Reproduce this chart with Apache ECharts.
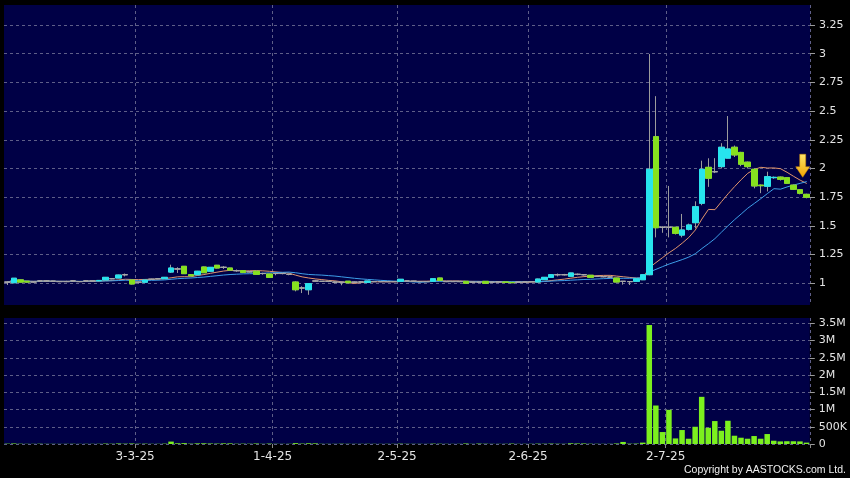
<!DOCTYPE html>
<html>
<head>
<meta charset="utf-8">
<script src="https://cdn.jsdelivr.net/npm/echarts@6/dist/echarts.min.js"></script>
<style>
html,body{margin:0;padding:0;background:#000;}
#chart{width:850px;height:478px;}
</style>
</head>
<body>
<div id="chart"></div>
<script>
// Trading days (HK), Feb–Jul 2025
const febDays = [3,4,5,6,7,10,11,12,13,14,17,18,19,20,21,24,25,26,27,28];
const marDays = [3,4,5,6,7,10,11,12,13,14,17,18,19,20,21,24,25,26,27,28,31];
const aprDays = [1,2,3,7,8,9,10,11,14,15,16,17,22,23,24,25,28,29,30];
const mayDays = [2,6,7,8,9,12,13,14,15,16,19,20,21,22,23,26,27,28,29,30];
const junDays = [2,3,4,5,6,9,10,11,12,13,16,17,18,19,20,23,24,25,26,27,30];
const julDays = [2,3,4,7,8,9,10,11,14,15,16,17,18,21,22,23,24,25,28,29,30,31];

const opens = [
1.010,1.005,1.030,1.018,1.012,1.020,1.020,1.018,1.015,1.015,
1.020,1.015,1.020,1.020,1.022,1.029,1.040,1.046,1.075,1.029,
1.010,1.009,1.035,1.040,1.040,1.098,1.125,1.148,1.075,1.075,
1.142,1.105,1.157,1.139,1.133,1.110,1.110,1.100,1.105,1.085,
1.081,1.085,1.085,1.078,1.011,0.959,0.944,1.020,1.017,1.017,
1.010,1.009,1.018,1.010,1.012,1.008,1.015,1.015,1.015,1.015,
1.017,1.020,1.018,1.015,1.015,1.017,1.046,1.015,1.015,1.015,
1.017,1.010,1.010,1.017,1.010,1.012,1.012,1.008,1.010,1.012,
1.015,1.011,1.031,1.052,1.075,1.075,1.061,1.078,1.075,1.070,
1.060,1.058,1.055,1.046,1.017,1.015,1.017,1.031,1.075,2.277,
1.488,1.488,1.488,1.420,1.470,1.528,1.697,2.010,1.972,2.016,
2.090,2.185,2.140,2.055,1.993,1.855,1.845,1.920,1.925,1.920,
1.855,1.815,1.775];
const closes = [
1.010,1.044,1.010,1.010,1.012,1.020,1.020,1.018,1.015,1.015,
1.020,1.015,1.020,1.020,1.025,1.052,1.040,1.072,1.075,0.994,
1.010,1.029,1.035,1.040,1.052,1.133,1.125,1.084,1.065,1.105,
1.092,1.139,1.133,1.139,1.115,1.110,1.095,1.100,1.078,1.085,
1.052,1.085,1.085,1.078,0.944,0.959,0.997,1.020,1.017,1.017,
1.010,1.009,1.005,1.010,1.012,1.020,1.015,1.015,1.015,1.015,
1.035,1.020,1.018,1.015,1.015,1.040,1.025,1.015,1.015,1.015,
1.000,1.010,1.010,1.000,1.010,1.012,1.008,1.005,1.010,1.012,
1.015,1.037,1.052,1.075,1.075,1.075,1.090,1.078,1.075,1.052,
1.060,1.058,1.055,1.011,1.017,1.015,1.040,1.075,1.993,1.484,
1.488,1.488,1.435,1.464,1.508,1.667,1.993,1.915,1.972,2.185,
2.170,2.118,2.037,2.016,1.848,1.850,1.929,1.923,1.906,1.871,
1.819,1.784,1.749];
const lows = [
0.985,1.000,1.008,1.005,1.005,1.012,1.015,1.012,1.010,1.010,
1.012,1.010,1.015,1.012,1.015,1.025,1.035,1.044,1.060,0.990,
1.000,1.005,1.030,1.035,1.038,1.090,1.090,1.084,1.060,1.070,
1.090,1.100,1.130,1.125,1.110,1.100,1.090,1.095,1.075,1.075,
1.050,1.070,1.078,1.070,0.930,0.915,0.900,1.015,1.012,1.010,
1.000,0.983,1.002,1.005,1.008,1.005,1.010,1.010,1.010,1.012,
1.015,1.015,1.012,1.010,1.012,1.015,1.022,1.010,1.012,1.010,
0.998,1.005,1.002,0.998,1.005,1.008,1.005,1.002,1.005,1.008,
1.010,1.008,1.028,1.050,1.060,1.068,1.058,1.070,1.068,1.050,
1.055,1.052,1.050,1.008,0.988,0.985,1.015,1.028,1.070,1.400,
1.440,1.400,1.425,1.400,1.460,1.479,1.680,1.840,1.960,2.000,
2.090,2.100,2.020,2.000,1.827,1.785,1.800,1.910,1.895,1.866,
1.815,1.775,1.740];
const highs = [
1.015,1.046,1.032,1.020,1.015,1.025,1.028,1.022,1.020,1.022,
1.025,1.020,1.025,1.022,1.028,1.055,1.045,1.075,1.085,1.032,
1.015,1.030,1.040,1.045,1.055,1.162,1.140,1.150,1.080,1.108,
1.145,1.142,1.160,1.150,1.135,1.120,1.112,1.105,1.108,1.092,
1.083,1.090,1.090,1.082,1.017,0.974,0.999,1.030,1.020,1.020,
1.018,1.015,1.020,1.015,1.018,1.022,1.020,1.018,1.020,1.018,
1.036,1.025,1.022,1.020,1.018,1.042,1.048,1.020,1.018,1.020,
1.018,1.015,1.012,1.018,1.015,1.015,1.014,1.010,1.015,1.015,
1.018,1.040,1.055,1.078,1.085,1.082,1.092,1.085,1.080,1.072,
1.065,1.062,1.060,1.048,1.020,1.018,1.042,1.078,2.997,2.630,
1.495,1.848,1.492,1.604,1.520,1.714,2.068,2.089,2.090,2.220,
2.457,2.200,2.145,2.060,2.000,1.860,1.972,1.930,1.930,1.925,
1.860,1.820,1.780];
const volumes = [
10000,15000,8000,5000,5000,8000,5000,5000,4000,5000,
6000,4000,5000,5000,6000,12000,8000,15000,10000,15000,
8000,10000,6000,6000,10000,70000,20000,25000,10000,18000,
20000,15000,12000,18000,18000,8000,10000,8000,15000,6000,
12000,6000,5000,6000,25000,12000,20000,18000,6000,5000,
5000,8000,6000,5000,5000,6000,5000,4000,5000,5000,
10000,6000,5000,5000,4000,10000,8000,5000,4000,5000,
15000,5000,12000,8000,5000,5000,6000,12000,5000,5000,
6000,10000,8000,12000,8000,6000,20000,15000,15000,8000,
6000,5000,6000,15000,60000,10000,12000,40000,3450000,1116000,
347000,990000,162000,405000,153000,500000,1368000,470000,665000,385000,
674000,240000,182000,153000,231000,153000,289000,95000,75000,80000,
80000,75000,40000];
const priceTicks = [1, 1.25, 1.5, 1.75, 2, 2.25, 2.5, 2.75, 3, 3.25];
const volumeTicks = [0, 500000, 1000000, 1500000, 2000000, 2500000, 3000000, 3500000];

const pad = d => (d < 10 ? '0' : '') + d;
const dates = [].concat(
  febDays.map(d => '2025-02-' + pad(d)),
  marDays.map(d => '2025-03-' + pad(d)),
  aprDays.map(d => '2025-04-' + pad(d)),
  mayDays.map(d => '2025-05-' + pad(d)),
  junDays.map(d => '2025-06-' + pad(d)),
  julDays.map(d => '2025-07-' + pad(d))
);

// 10-day and 20-day simple moving averages of the closes (chart indicator)
function movingAverage(values, n) {
  return values.map((v, i) => {
    const from = Math.max(0, i - n + 1);
    let s = 0;
    for (let k = from; k <= i; k++) s += values[k];
    return +(s / (i - from + 1)).toFixed(4);
  });
}
const ma10 = movingAverage(closes, 10);
const ma20 = movingAverage(closes, 20);

const isMonthStart = (idx) => idx > 0 && dates[idx].slice(5, 7) !== dates[idx - 1].slice(5, 7);
const fmtDate = (v) => { const p = v.split('-'); return (+p[2]) + '-' + (+p[1]) + '-' + p[0].slice(2); };
const fmtVol = (v) => v === 0 ? '0' : (v >= 1000000 ? (v / 1000000) + 'M' : (v / 1000) + 'K');

const gridColor = '#5e5e88';
const labelColor = '#e4e4e4';
const cyan = '#27e4ee';
const green = '#86e11f';
const wickGray = '#9c9c9c';

const chart = echarts.init(document.getElementById('chart'), null, { renderer: 'canvas' });
chart.setOption({
  backgroundColor: '#000000',
  animation: false,
  grid: [
    { left: 4, right: 40, top: 5, height: 300, show: true, backgroundColor: '#000046', borderWidth: 0 },
    { left: 4, right: 40, top: 318, height: 126, show: true, backgroundColor: '#000046', borderWidth: 0 }
  ],
  xAxis: [
    {
      type: 'category', gridIndex: 0, data: dates, boundaryGap: true,
      axisLine: { show: false }, axisTick: { show: false }, axisLabel: { show: false },
      splitLine: { show: true, interval: isMonthStart, lineStyle: { color: gridColor, type: [3, 3], width: 1 } }
    },
    {
      type: 'category', gridIndex: 1, data: dates, boundaryGap: true,
      axisLine: { show: false },
      axisTick: { show: true, interval: isMonthStart, length: 4, lineStyle: { color: '#8a8a8a' } },
      axisLabel: {
        show: true, interval: isMonthStart, formatter: fmtDate, color: labelColor,
        fontFamily: 'DejaVu Sans', fontSize: 12, margin: 7, padding: [0, 6.5, 0, 0]
      },
      splitLine: { show: true, interval: isMonthStart, lineStyle: { color: gridColor, type: [3, 3], width: 1 } }
    }
  ],
  yAxis: [
    {
      type: 'value', gridIndex: 0, position: 'right', min: 0.811, max: 3.424,
      axisLine: { show: false },
      axisTick: { show: true, customValues: priceTicks, length: 5, lineStyle: { color: '#9a9a9a' } },
      axisLabel: { customValues: priceTicks, color: labelColor, fontFamily: 'DejaVu Sans', fontSize: 11, margin: 9 },
      splitLine: { show: true, lineStyle: { color: gridColor, type: [3, 3], width: 1 } }
    },
    {
      type: 'value', gridIndex: 1, position: 'right', min: 0, max: 3654000,
      axisLine: { show: false },
      axisTick: { show: true, customValues: volumeTicks, length: 5, lineStyle: { color: '#9a9a9a' } },
      axisLabel: { customValues: volumeTicks, formatter: fmtVol, color: labelColor, fontFamily: 'DejaVu Sans', fontSize: 11, margin: 9 },
      splitLine: { show: true, lineStyle: { color: gridColor, type: [3, 3], width: 1 } }
    }
  ],
  series: [
    {
      name: 'MA10', type: 'line', xAxisIndex: 0, yAxisIndex: 0, data: ma10,
      symbol: 'none', smooth: false, z: 1, lineStyle: { color: '#e2956c', width: 1 }
    },
    {
      name: 'MA20', type: 'line', xAxisIndex: 0, yAxisIndex: 0, data: ma20,
      symbol: 'none', smooth: false, z: 1, lineStyle: { color: '#3d9ee8', width: 1 }
    },
    {
      name: 'wicks', type: 'candlestick', xAxisIndex: 0, yAxisIndex: 0, barWidth: 6, z: 2,
      data: dates.map((d, i) => [opens[i], closes[i], lows[i], highs[i]]),
      itemStyle: {
        color: 'transparent', color0: 'transparent',
        borderColor: wickGray, borderColor0: wickGray, borderColorDoji: wickGray, borderWidth: 1
      }
    },
    {
      name: 'bodies', type: 'candlestick', xAxisIndex: 0, yAxisIndex: 0, barWidth: 6, z: 3,
      data: dates.map((d, i) => [opens[i], closes[i], Math.min(opens[i], closes[i]), Math.max(opens[i], closes[i])]),
      itemStyle: {
        color: cyan, color0: green,
        borderColor: cyan, borderColor0: green, borderColorDoji: '#a8a8a8', borderWidth: 1
      },
      markPoint: {
        silent: true,
        data: [{
          coord: [dates[dates.length - 1], highs[highs.length - 1]],
          symbol: 'path://M4,0 L10,0 L10,13 L14,13 L7,24 L0,13 L4,13 Z',
          symbolSize: [14, 23],
          symbolKeepAspect: false,
          symbolOffset: [-4, -28],
          label: { show: false },
          itemStyle: {
            color: new echarts.graphic.LinearGradient(0, 0, 0, 1, [
              { offset: 0, color: '#ffe66a' }, { offset: 1, color: '#f2a400' }
            ]),
            borderColor: '#d08a00', borderWidth: 0.5
          }
        }]
      }
    },
    {
      name: 'Volume', type: 'bar', xAxisIndex: 1, yAxisIndex: 1, barWidth: 5.5,
      data: volumes, itemStyle: { color: '#7cf01e' }
    }
  ],
  graphic: [{
    type: 'text', right: 4, top: 465,
    style: { text: 'Copyright by AASTOCKS.com Ltd.', fill: '#f0f0f0', font: '10.5px "Liberation Sans", Arial, sans-serif' }
  }]
});
</script>
</body>
</html>
